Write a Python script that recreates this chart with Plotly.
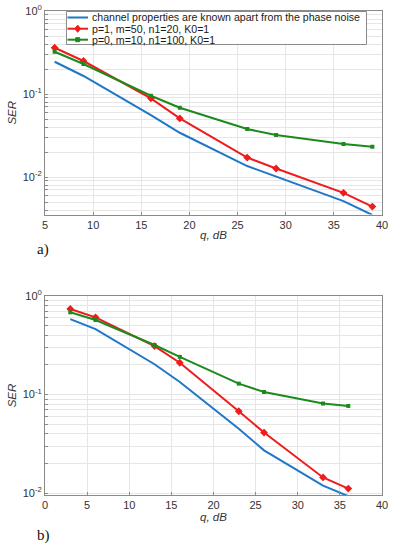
import plotly.graph_objects as go

# ---- data: panel a) ----
q_a = [6, 9, 16, 19, 26, 29, 36, 39]
ser_known_a = [0.245, 0.165, 0.0558, 0.0342, 0.0136, 0.0101, 0.00514, 0.0035]
ser_p1_a = [0.361, 0.250, 0.0888, 0.0509, 0.0172, 0.0127, 0.00647, 0.00442]
ser_p0_a = [0.323, 0.230, 0.0954, 0.0684, 0.0379, 0.0321, 0.0250, 0.0232]

# ---- data: panel b) ----
q_b = [3, 6, 13, 16, 23, 26, 33, 36]
ser_known_b = [0.583, 0.462, 0.203, 0.134, 0.045, 0.0271, 0.0119, 0.0093]
ser_p1_b = [0.738, 0.607, 0.310, 0.210, 0.0676, 0.0411, 0.0144, 0.0111]
ser_p0_b = [0.683, 0.570, 0.318, 0.241, 0.129, 0.106, 0.081, 0.0766]

names = ["channel properties are known apart from the phase noise",
         "p=1, m=50, n1=20, K0=1",
         "p=0, m=10, n1=100, K0=1"]
colors = ["#2077c8", "#ee1c1c", "#1c8a1c"]
symbols = [None, "diamond", "square"]
msizes = [0, 6, 4]

decades = [0.001, 0.01, 0.1, 1]
y_tickvals = [d * k for d in decades for k in range(1, 10) if d * k <= 1]
y_ticktext = []
for v in y_tickvals:
    if abs(v - 1) < 1e-12:
        y_ticktext.append("10<sup>0</sup>")
    elif abs(v - 0.1) < 1e-12:
        y_ticktext.append("10<sup>-1</sup>")
    elif abs(v - 0.01) < 1e-12:
        y_ticktext.append("10<sup>-2</sup>")
    else:
        y_ticktext.append("")

W, H = 395, 550
ML, MR, MT, MB = 45, 13, 11, 55
PW, PH = W - ML - MR, H - MT - MB
TOP_Y0, TOP_Y1 = 11, 214.5      # pixel rows of panel a) plot area
BOT_Y0 = 296                    # top pixel row of panel b) plot area
TH = TOP_Y1 - TOP_Y0


def ypaper(py):
    return (H - MB - py) / PH


def xpaper(px):
    return (px - ML) / PW


def xdom(px):
    return (px - ML) / PW


def ydom(py):
    return (TOP_Y1 - py) / TH


fig = go.Figure()


def add_panel(xa, ya, q, series):
    for i, s in enumerate(series):
        fig.add_trace(go.Scatter(
            x=q, y=s, xaxis=xa, yaxis=ya, name=names[i], showlegend=False,
            mode="lines" if symbols[i] is None else "lines+markers",
            line=dict(color=colors[i], width=2),
            marker=dict(symbol=symbols[i] or "circle", size=msizes[i], color=colors[i])))


add_panel("x", "y", q_a, [ser_known_a, ser_p1_a, ser_p0_a])
add_panel("x2", "y2", q_b, [ser_known_b, ser_p1_b, ser_p0_b])

# ---- compact MATLAB-style legend box (shapes + annotations) in panel a) ----
fig.add_shape(type="rect", xref="x domain", yref="y domain",
              x0=xdom(66.5), x1=xdom(366.5), y0=ydom(44.5), y1=ydom(11.5),
              line=dict(color="#8a8a8a", width=1), fillcolor="white", layer="above")
leg_rows = [17.5, 28.7, 39.7]
sx0, sx1, sxc = 67.5, 88, 77.7
for i, ry in enumerate(leg_rows):
    fig.add_shape(type="line", xref="x domain", yref="y domain",
                  x0=xdom(sx0), x1=xdom(sx1), y0=ydom(ry), y1=ydom(ry),
                  line=dict(color=colors[i], width=2), layer="above")
    if symbols[i] == "diamond":
        r = 3.6
        path = "M {a},{b} L {c},{d} L {a},{e} L {f},{d} Z".format(
            a=xdom(sxc), b=ydom(ry - r), c=xdom(sxc + r * 0.8), d=ydom(ry),
            e=ydom(ry + r), f=xdom(sxc - r * 0.8))
        fig.add_shape(type="path", xref="x domain", yref="y domain", path=path,
                      fillcolor=colors[i], line=dict(color=colors[i], width=1), layer="above")
    elif symbols[i] == "square":
        r = 2
        fig.add_shape(type="rect", xref="x domain", yref="y domain",
                      x0=xdom(sxc - r), x1=xdom(sxc + r), y0=ydom(ry + r), y1=ydom(ry - r),
                      fillcolor=colors[i], line=dict(color=colors[i], width=1), layer="above")
    fig.add_annotation(text=names[i], xref="x domain", yref="y domain", x=xdom(89.5), y=ydom(ry),
                       xanchor="left", yanchor="middle", showarrow=False,
                       font=dict(family="Liberation Sans, Arial, sans-serif", size=10.6, color="#1a1a1a"))

font_main = "Liberation Sans, Arial, sans-serif"
tickfont = dict(family=font_main, size=11, color="#333333")
titlefont = dict(family=font_main, size=11.5, color="#333333")
axis_common = dict(showline=True, linecolor="#8a8a8a", linewidth=1, mirror=True,
                   ticks="inside", ticklen=3, tickcolor="#8a8a8a",
                   showgrid=True, gridcolor="#e6e6e6", gridwidth=1,
                   zeroline=False, tickfont=tickfont, automargin=False)

top_dom = [ypaper(TOP_Y1), ypaper(TOP_Y0)]
bot_dom = [0.0, ypaper(BOT_Y0)]

fig.update_layout(
    width=W, height=H,
    margin=dict(l=ML, r=MR, t=MT, b=MB, autoexpand=False),
    paper_bgcolor="white", plot_bgcolor="white",
    font=dict(family=font_main, color="#333333"),
    showlegend=False,
    xaxis=dict(**axis_common, range=[5, 40], dtick=5, tick0=0, anchor="y",
               ticklabeloverflow="allow",
               title=dict(text="<i>q, dB</i>", font=titlefont, standoff=1)),
    yaxis=dict(**axis_common, type="log", range=[-2.45, 0], domain=top_dom, anchor="x",
               tickvals=y_tickvals, ticktext=y_ticktext,
               title=dict(text="<i>SER</i>", font=titlefont, standoff=3)),
    xaxis2=dict(**axis_common, range=[0, 40], dtick=5, tick0=0, anchor="y2",
                ticklabeloverflow="allow",
                title=dict(text="<i>q, dB</i>", font=titlefont, standoff=1)),
    yaxis2=dict(**axis_common, type="log", range=[-2.02, 0], domain=bot_dom, anchor="x2",
                tickvals=y_tickvals, ticktext=y_ticktext,
                title=dict(text="<i>SER</i>", font=titlefont, standoff=3)),
)

fig.add_annotation(text="a)", xref="paper", yref="paper", x=xpaper(35), y=ypaper(250),
                   showarrow=False, xanchor="left", yanchor="middle",
                   font=dict(family="Liberation Serif, Times New Roman, serif", size=15, color="#111111"))
fig.add_annotation(text="b)", xref="paper", yref="paper", x=xpaper(35), y=ypaper(535),
                   showarrow=False, xanchor="left", yanchor="middle",
                   font=dict(family="Liberation Serif, Times New Roman, serif", size=15, color="#111111"))

fig.write_html("out.html", config={"displayModeBar": False},
               post_script="document.body.style.margin='0';document.body.style.overflow='hidden';")
